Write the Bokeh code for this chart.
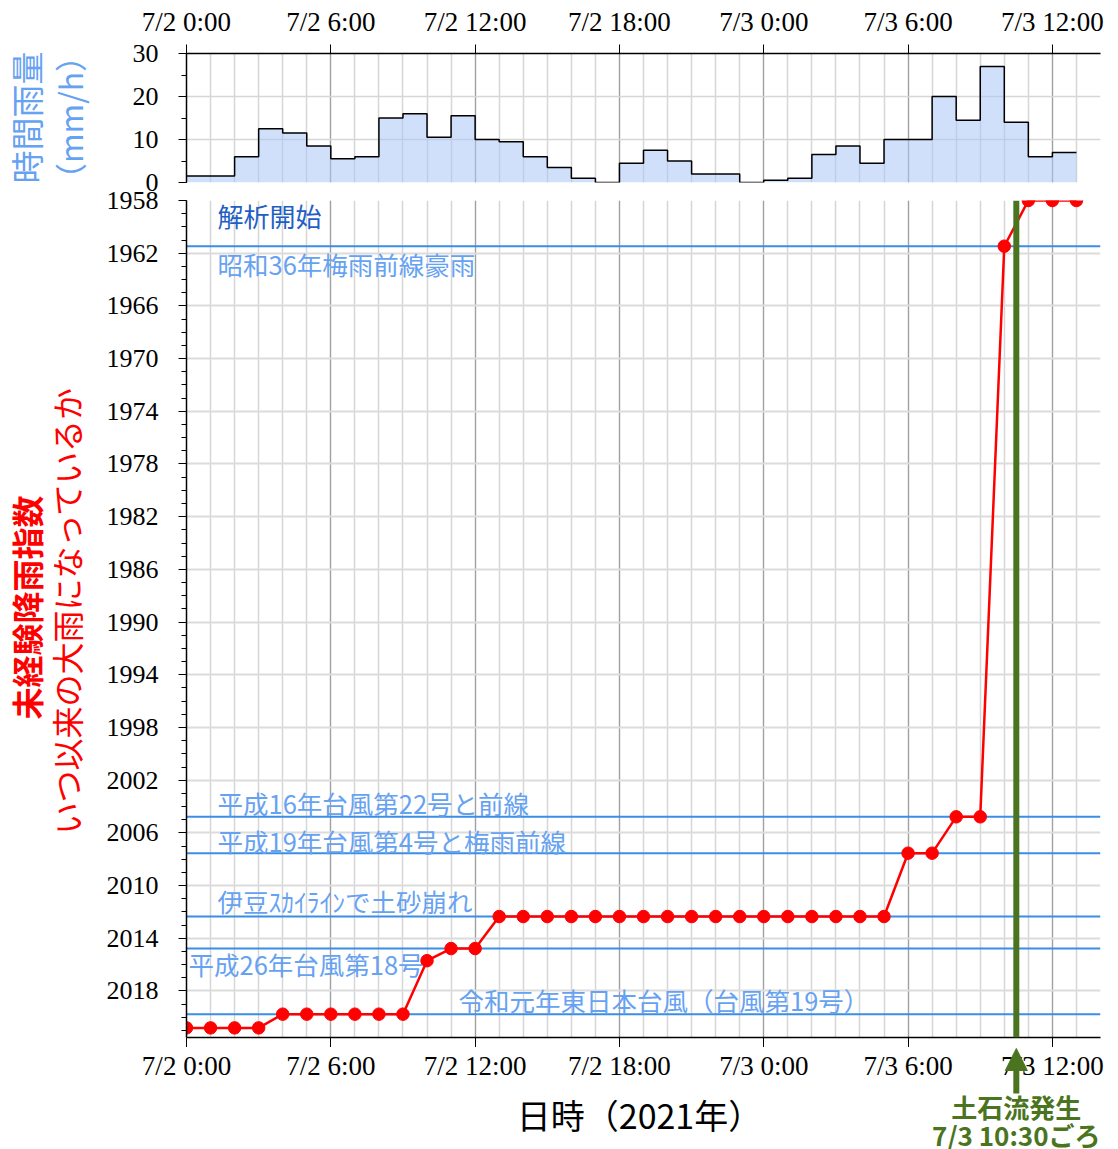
import math
from bokeh.plotting import figure
from bokeh.models import Range1d, FixedTicker, Span, Label, Arrow, NormalHead
from bokeh.layouts import column, row
from bokeh.core.properties import value
from bokeh.embed import file_html
from bokeh.resources import INLINE

# ---------------- data ----------------
tick_hours = [0, 6, 12, 18, 24, 30, 36]
tick_labels = ["7/2 0:00", "7/2 6:00", "7/2 12:00", "7/2 18:00", "7/3 0:00", "7/3 6:00", "7/3 12:00"]
grid_hours = list(range(0, 39))
x_start_hour = 0
x_end_hour = 38

rain_hours = list(range(0, 37))
rain_mm = [1.5, 1.5, 6.0, 12.5, 11.5, 8.5, 5.5, 6.0, 15.0, 16.0, 10.5, 15.5, 10.0, 9.5,
           6.0, 3.5, 1.0, 0.0, 4.5, 7.5, 5.0, 2.0, 2.0, 0.0, 0.5, 1.0, 6.5, 8.5, 4.5,
           10.0, 10.0, 20.0, 14.5, 27.0, 14.0, 6.0, 7.0]
rain_ticks = [0, 10, 20, 30]
rain_minor = [0, 5, 10, 15, 20, 25, 30]

index_hours = list(range(0, 38))
index_year = [2020.8, 2020.8, 2020.8, 2020.8,
              2019.76, 2019.76, 2019.76, 2019.76, 2019.76, 2019.76,
              2015.7, 2014.78, 2014.78,
              2012.35, 2012.35, 2012.35, 2012.35, 2012.35, 2012.35, 2012.35, 2012.35, 2012.35,
              2012.35, 2012.35, 2012.35, 2012.35, 2012.35, 2012.35, 2012.35, 2012.35,
              2007.54, 2007.54, 2004.78, 2004.78, 1961.47, 1958.0, 1958.0, 1958.0]

event_names = ["昭和36年梅雨前線豪雨", "平成16年台風第22号と前線", "平成19年台風第4号と梅雨前線",
               "伊豆ｽｶｲﾗｲﾝで土砂崩れ", "平成26年台風第18号", "令和元年東日本台風（台風第19号）"]
event_years = [1961.47, 2004.78, 2007.54, 2012.35, 2014.78, 2019.76]
analysis_start_year = 1958.0
analysis_start_label = "解析開始"

y_top_year = 1958.0
y_bottom_year = 2021.53
year_ticks = list(range(1958, 2019, 4))
year_minor = list(range(1958, 2022))

debris_hour = 34.5
debris_lines = ["土石流発生", "7/3 10:30ごろ"]
x_title = "日時（2021年）"
rain_title = ["時間雨量", "（mm/h）"]
index_title = ["未経験降雨指数", "いつ以来の大雨になっているか"]

# ---------------- styles / geometry ----------------
LCOL = 100          # width of the left title column
RW = 1010           # width of the chart column
BL = 86             # chart frame left border (in chart column)
BR = 10
FRAME_W = RW - BL - BR
P1_H = 191
P2_H = 856
P3_H = 102
TOTAL_H = P1_H + P2_H + P3_H
SERIF = "Liberation Serif"
SANS = "Noto Sans CJK JP"
LBLUE = "#66a2f2"
LINEBLUE = "#3a8ee6"
GREEN = "#4b7420"
RED = "#ff0000"

xr = Range1d(x_start_hour, x_end_hour)


def no_align(p):
    if "frame_align" in p.properties():
        p.frame_align = False


def style_axis_common(ax):
    ax.axis_line_color = "black"
    ax.axis_line_width = 1.5
    ax.major_tick_line_color = "black"
    ax.major_tick_in = 0
    ax.minor_tick_in = 0


def style_yaxis(ax):
    style_axis_common(ax)
    ax.major_label_text_font = SERIF
    ax.major_label_text_font_size = "26px"
    ax.major_label_text_color = "black"
    ax.minor_tick_line_color = "black"
    ax.major_tick_out = 8
    ax.minor_tick_out = 5
    ax.major_label_standoff = 20


def style_xgrid(p):
    p.xgrid.ticker = FixedTicker(ticks=tick_hours, minor_ticks=grid_hours)
    p.xgrid.grid_line_color = "#a0a0a0"
    p.xgrid.grid_line_width = 1.2
    p.xgrid.minor_grid_line_color = "#d6d6d6"
    p.xgrid.minor_grid_line_width = 1.5


# ---------------- top: hourly rain ----------------
p1 = figure(width=RW, height=P1_H, x_range=xr, y_range=Range1d(0, 30),
            x_axis_location="above", output_backend="svg", toolbar_location=None, tools="",
            min_border_left=BL, min_border_right=BR, min_border_top=53, min_border_bottom=9)
p1.outline_line_color = None
ax = p1.xaxis[0]
style_axis_common(ax)
ax.ticker = FixedTicker(ticks=tick_hours, minor_ticks=grid_hours)
ax.major_label_overrides = {h: t for h, t in zip(tick_hours, tick_labels)}
ax.major_label_text_font = SERIF
ax.major_label_text_font_size = "27px"
ax.major_label_text_color = "black"
ax.major_tick_out = 9
ax.minor_tick_line_color = None
ax.major_label_standoff = 8
style_yaxis(p1.yaxis[0])
p1.yaxis[0].ticker = FixedTicker(ticks=rain_ticks, minor_ticks=rain_minor)
style_xgrid(p1)
p1.ygrid.grid_line_color = "#d6d6d6"
p1.ygrid.grid_line_width = 1.5

rx = rain_hours + [rain_hours[-1] + 1]
ry = rain_mm + [rain_mm[-1]]
p1.varea_step(x=rx, y1=[0] * len(rx), y2=ry, step_mode="after",
              fill_color="#a9c6f6", fill_alpha=0.55)
p1.step(x=rx, y=ry, mode="after", line_color="black", line_width=1.5)

# ---------------- middle: unexperienced rainfall index ----------------
p2 = figure(width=RW, height=P2_H, x_range=xr, y_range=Range1d(y_bottom_year, y_top_year),
            output_backend="svg", toolbar_location=None, tools="",
            min_border_left=BL, min_border_right=BR, min_border_top=9, min_border_bottom=10)
p2.outline_line_color = None
ax = p2.xaxis[0]
style_axis_common(ax)
# tick marks only (labels are drawn in the strip below)
ax.ticker = FixedTicker(ticks=[], minor_ticks=tick_hours)
ax.minor_tick_line_color = "black"
ax.minor_tick_line_width = 1
ax.minor_tick_out = 10
ax.major_label_standoff = 0
style_yaxis(p2.yaxis[0])
p2.yaxis[0].ticker = FixedTicker(ticks=year_ticks, minor_ticks=year_minor)
style_xgrid(p2)
p2.ygrid.grid_line_color = "#dcdcdc"
p2.ygrid.grid_line_width = 2

label_dy = [-17, 14, 13, 16, -15, 15]
label_dx = [31, 31, 31, 31, 2, 272]
for name, yr, dy, dx in zip(event_names, event_years, label_dy, label_dx):
    p2.add_layout(Span(location=yr, dimension="width", line_color=LINEBLUE, line_width=2,
                       level="underlay"))
    p2.add_layout(Label(x=dx, y=yr, x_units="screen", y_units="data", y_offset=dy, text=name,
                        text_align="left", text_baseline="middle", text_font=SANS,
                        text_font_size="25.5px", text_color=LBLUE, level="underlay"))
p2.add_layout(Label(x=31, y=analysis_start_year, x_units="screen", y_units="data", y_offset=-15,
                    text=analysis_start_label, text_align="left", text_baseline="middle",
                    text_font=SANS, text_font_size="26px", text_color="#1f5fc4"))

p2.line(index_hours, index_year, line_color=RED, line_width=2.5)
p2.scatter(index_hours, index_year, size=12.5, fill_color=RED, line_color=RED)

p2.add_layout(Span(location=debris_hour, dimension="height", line_color=GREEN, line_width=6))

# ---------------- bottom strip: tick labels, axis title, debris-flow marker ----------------
pph = FRAME_W / (x_end_hour - x_start_hour)
p3 = figure(width=RW, height=P3_H,
            x_range=Range1d(x_start_hour - BL / pph, x_end_hour + BR / pph),
            y_range=Range1d(0, P3_H), x_axis_type=None, y_axis_type=None,
            output_backend="svg", toolbar_location=None, tools="",
            min_border_left=0, min_border_right=0, min_border_top=0, min_border_bottom=0)
no_align(p3)
p3.outline_line_color = None
p3.grid.visible = False
p3.text(x=tick_hours, y=P3_H - 18, text=tick_labels, text_font=value(SERIF),
        text_font_size="27px", text_color="black", text_align="center", text_baseline="middle")
p3.add_layout(Label(x=(x_start_hour + x_end_hour) / 2, y=P3_H - 67, x_offset=-4, text=x_title,
                    text_align="center", text_baseline="middle", text_font=SANS,
                    text_font_size="34px", text_color="black"))
p3.add_layout(Arrow(end=NormalHead(size=22, fill_color=GREEN, line_color=GREEN),
                    line_color=GREEN, line_width=6,
                    x_start=debris_hour, x_end=debris_hour, y_start=P3_H - 46, y_end=P3_H - 1))
for i, t in enumerate(debris_lines):
    p3.add_layout(Label(x=debris_hour, y=P3_H - 59 - 28 * i, text=t,
                        text_align="center", text_baseline="middle", text_font=SANS,
                        text_font_size="26px", text_font_style="bold", text_color=GREEN))


# ---------------- left title column ----------------
def title_panel(h):
    t = figure(width=LCOL, height=h, x_range=Range1d(0, LCOL), y_range=Range1d(0, h),
               x_axis_type=None, y_axis_type=None, output_backend="svg",
               toolbar_location=None, tools="",
               min_border_left=0, min_border_right=0, min_border_top=0, min_border_bottom=0)
    no_align(t)
    t.outline_line_color = None
    t.grid.visible = False
    return t


t1 = title_panel(P1_H)
t1.add_layout(Label(x=25, y=P1_H - 117, text=rain_title[0], angle=math.pi / 2,
                    text_align="center", text_baseline="middle", text_font=SANS,
                    text_font_size="33px", text_color=LBLUE))
t1.add_layout(Label(x=68, y=P1_H - 117, text=rain_title[1], angle=math.pi / 2,
                    text_align="center", text_baseline="middle", text_font=SANS,
                    text_font_size="32px", text_color=LBLUE))

t2 = title_panel(P2_H + P3_H)
t2.add_layout(Label(x=25, y=TOTAL_H - 607, text=index_title[0], angle=math.pi / 2,
                    text_align="center", text_baseline="middle", text_font=SANS,
                    text_font_size="32px", text_font_style="bold", text_color=RED))
t2.add_layout(Label(x=65, y=TOTAL_H - 610, text=index_title[1], angle=math.pi / 2,
                    text_align="center", text_baseline="middle", text_font=SANS,
                    text_font_size="32px", text_color=RED))

layout = row(column(t1, t2), column(p1, p2, row(p3)))
open("out.html", "w").write(file_html(layout, INLINE))
